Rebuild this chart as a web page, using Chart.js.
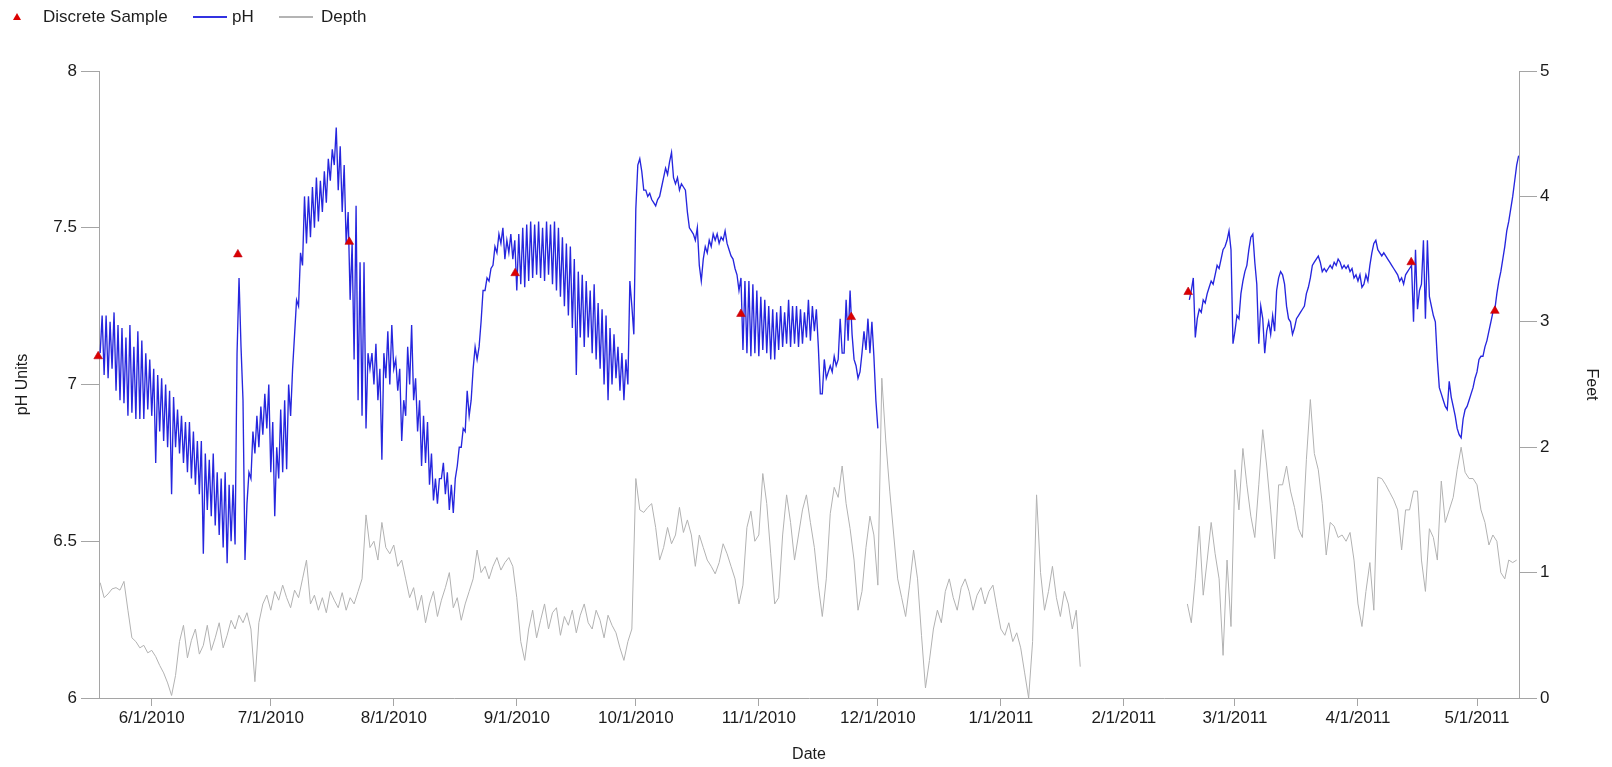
<!DOCTYPE html>
<html>
<head>
<meta charset="utf-8">
<title>pH and Depth</title>
<script src="https://cdn.jsdelivr.net/npm/chart.js@4.4.1/dist/chart.umd.min.js"></script>
<style>
  html, body { margin: 0; padding: 0; background: #fff; }
  #wrap { position: relative; width: 1612px; height: 767px; }
  #legend { position: absolute; left: 0; top: 0; width: 400px; height: 34px;
            font: 17px "Liberation Sans", Arial, sans-serif; color: #1e1e1e; }
  #legend .lbl { position: absolute; top: 7px; line-height: 20px; white-space: nowrap; }
  #legend .ln { position: absolute; top: 16px; width: 34px; height: 1.5px; }
  #legend .tri { position: absolute; left: 13px; top: 13px; width: 0; height: 0;
                 border-left: 4px solid transparent; border-right: 4px solid transparent;
                 border-bottom: 7px solid rgb(220,0,0); }
</style>
</head>
<body>
<div id="wrap">
  <canvas id="chart" width="1612" height="767"></canvas>
  <div id="legend">
    <span class="tri"></span>
    <span class="lbl" style="left:43px">Discrete Sample</span>
    <span class="ln" style="left:193px;background:rgb(50,50,225)"></span>
    <span class="lbl" style="left:232px">pH</span>
    <span class="ln" style="left:279px;background:rgb(180,180,180)"></span>
    <span class="lbl" style="left:321px">Depth</span>
  </div>
</div>
<script>
// ---- Continuous pH record, one reading every 12 hours ----
const phEarlyStart = '2010-05-19T00:00:00Z';
const phEarly = [
  7.10,7.22, 7.03,7.22, 7.02,7.20, 7.05,7.23, 6.98,7.19,
  6.95,7.18, 6.94,7.15, 6.90,7.19, 6.91,7.12, 6.89,7.17,
  6.89,7.14, 6.89,7.10, 6.92,7.08, 6.90,7.05, 6.75,7.03,
  6.85,7.02, 6.82,7.00, 6.80,6.98, 6.65,6.96, 6.80,6.92,
  6.78,6.90, 6.75,6.88, 6.72,6.88, 6.70,6.85, 6.68,6.82,
  6.65,6.82, 6.46,6.78, 6.60,6.76, 6.58,6.78, 6.55,6.72,
  6.52,6.70, 6.48,6.72, 6.43,6.68, 6.50,6.68, 6.49,7.10,
  7.34,7.12, 6.95,6.44, 6.62,6.72, 6.70,6.85, 6.78,6.90,
  6.80,6.93, 6.84,6.97, 6.86,7.00, 6.72,6.88, 6.58,6.80,
  6.70,6.92, 6.72,6.95, 6.73,7.00, 6.90,7.05, 7.16,7.27,
  7.25,7.42, 7.38,7.60, 7.45,7.60, 7.47,7.63, 7.50,7.66,
  7.52,7.65, 7.55,7.68, 7.58,7.72, 7.65,7.75, 7.70,7.82,
  7.62,7.76, 7.55,7.70, 7.45,7.55, 7.27,7.45, 7.08,7.57,
  6.95,7.39, 6.90,7.39, 6.86,7.10, 7.05,7.10, 7.00,7.13,
  6.95,7.05, 6.76,7.10, 7.02,7.17, 7.00,7.19, 7.05,7.08,
  6.98,7.05, 6.82,6.95, 6.90,7.12, 7.00,7.19, 6.95,7.02,
  6.85,6.95, 6.74,6.90, 6.75,6.88, 6.68,6.78, 6.63,6.70,
  6.62,6.70, 6.70,6.75, 6.65,6.72, 6.60,6.68, 6.59,6.70,
  6.74,6.80, 6.80,6.86, 6.85,6.98, 6.90,6.95, 7.05,7.12,
  7.08,7.12, 7.20,7.30, 7.30,7.34, 7.33,7.37, 7.38,7.44,
  7.42,7.48, 7.45,7.50, 7.40,7.46, 7.42,7.48, 7.40,7.46,
  7.30,7.48, 7.32,7.50, 7.31,7.51, 7.33,7.52, 7.34,7.51,
  7.35,7.52, 7.34,7.50, 7.33,7.52, 7.35,7.51, 7.32,7.52,
  7.30,7.50, 7.28,7.47, 7.25,7.45, 7.22,7.44, 7.18,7.40,
  7.03,7.36, 7.15,7.35, 7.12,7.33, 7.15,7.30, 7.10,7.32,
  7.08,7.26, 7.05,7.24, 7.00,7.22, 6.95,7.18, 7.00,7.16,
  7.02,7.12, 6.98,7.10, 6.95,7.08, 7.00,7.33, 7.25,7.16,
  7.56,7.70, 7.72,7.68, 7.62,7.62, 7.60,7.61, 7.59,7.58,
  7.57,7.59, 7.60,7.63, 7.66,7.69, 7.67,7.71, 7.74,7.66,
  7.64,7.66, 7.62,7.64, 7.63,7.62, 7.55,7.50, 7.49,7.48,
  7.46,7.50, 7.38,7.33, 7.40,7.44, 7.42,7.46, 7.44,7.48,
  7.46,7.48, 7.45,7.47, 7.46,7.49, 7.45,7.43, 7.41,7.40,
  7.37,7.35, 7.30,7.34, 7.11,7.33, 7.10,7.33, 7.09,7.32,
  7.10,7.30, 7.09,7.28, 7.11,7.27, 7.10,7.25, 7.08,7.24,
  7.08,7.23, 7.11,7.25, 7.12,7.23, 7.13,7.27, 7.12,7.25,
  7.13,7.25, 7.12,7.24, 7.13,7.23, 7.15,7.27, 7.14,7.25,
  7.17,7.24, 7.12,6.97, 6.97,7.08, 7.02,7.04, 7.06,7.04,
  7.09,7.06, 7.08,7.21, 7.10,7.10, 7.27,7.14, 7.30,7.16,
  7.08,7.06, 7.02,7.04, 7.10,7.17, 7.11,7.21, 7.10,7.20,
  7.09,6.95, 6.86
];

const phLateStart = '2011-02-17T12:00:00Z';
const phLate = [
  7.27, 7.30,7.34, 7.15,7.21, 7.24,7.23, 7.27,7.26, 7.29,7.31,
  7.33,7.32, 7.35,7.38, 7.37,7.40, 7.43,7.44, 7.46,7.49,
  7.43,7.13, 7.17,7.22, 7.21,7.29, 7.33,7.36, 7.38,7.43,
  7.47,7.48, 7.39,7.32, 7.13,7.25, 7.21,7.10, 7.17,7.20,
  7.16,7.22, 7.17,7.30, 7.34,7.36, 7.35,7.32, 7.25,7.21,
  7.20,7.16, 7.18,7.21, 7.22,7.23, 7.24,7.25, 7.29,7.31,
  7.34,7.38, 7.39,7.40, 7.41,7.39, 7.36,7.37, 7.36,7.37,
  7.38,7.37, 7.39,7.38, 7.40,7.39, 7.37,7.38, 7.37,7.38,
  7.36,7.37, 7.34,7.35, 7.33,7.35, 7.31,7.32, 7.35,7.33,
  7.38,7.42, 7.45,7.46, 7.43,7.42, 7.41,7.42, 7.41,7.40,
  7.39,7.38, 7.37,7.36, 7.35,7.33, 7.34,7.32, 7.35,7.36,
  7.37,7.38, 7.20,7.43, 7.24,7.30, 7.32,7.46, 7.21,7.46,
  7.28,7.25, 7.22,7.20, 7.08,6.99, 6.97,6.95, 6.93,6.92,
  7.01,6.96, 6.93,6.90, 6.86,6.84, 6.83,6.89, 6.92,6.93,
  6.95,6.97, 6.99,7.02, 7.04,7.08, 7.09,7.09, 7.12,7.14,
  7.17,7.20, 7.23,7.24, 7.29,7.33, 7.36,7.40, 7.44,7.49,
  7.52,7.56, 7.60,7.65, 7.70,7.73
];

// ---- Water depth (feet), one reading per day ----
const depthEarlyStart = '2010-05-19T00:00:00Z';
const depthEarly = [
  0.92,0.80,0.83,0.87,0.88,0.86,0.93,0.70,0.48,0.45,0.40,0.42,0.36,
  0.38,0.33,0.26,0.20,0.12,0.02,0.18,0.45,0.58,0.32,0.46,0.55,0.35,
  0.42,0.58,0.38,0.48,0.60,0.40,0.50,0.62,0.55,0.66,0.60,0.68,0.55,
  0.13,0.60,0.75,0.82,0.70,0.85,0.78,0.90,0.80,0.72,0.86,0.80,0.95,
  1.10,0.75,0.82,0.70,0.80,0.68,0.85,0.78,0.72,0.84,0.70,0.80,0.75,
  0.85,0.95,1.46,1.20,1.25,1.10,1.40,1.20,1.15,1.22,1.05,1.10,0.95,
  0.80,0.88,0.70,0.82,0.60,0.75,0.85,0.65,0.78,0.88,1.00,0.72,0.80,
  0.62,0.75,0.85,0.95,1.18,1.00,1.05,0.95,1.05,1.12,1.02,1.08,1.12,
  1.05,0.80,0.45,0.30,0.55,0.70,0.48,0.62,0.75,0.55,0.68,0.72,0.50,
  0.65,0.58,0.70,0.52,0.66,0.75,0.60,0.55,0.70,0.62,0.48,0.66,0.58,
  0.52,0.40,0.30,0.45,0.55,
  1.75,1.50,1.48,1.52,1.55,1.36,1.10,1.20,1.36,1.23,1.30,1.52,1.32,
  1.42,1.30,1.05,1.30,1.20,1.10,1.05,0.99,1.08,1.23,1.15,1.05,0.95,
  0.75,0.90,1.36,1.49,1.25,1.30,1.79,1.55,1.15,0.75,0.80,1.30,1.62,
  1.40,1.10,1.30,1.50,1.62,1.40,1.20,0.90,0.65,0.95,1.47,1.68,1.60,
  1.85,1.55,1.35,1.10,0.70,0.85,1.20,1.45,1.30,0.90,2.55,2.05,1.65,
  1.30,0.95,0.80,0.65,0.90,1.18,0.95,0.50,0.08,0.30,0.55,0.70,0.60,
  0.85,0.95,0.80,0.70,0.88,0.95,0.85,0.70,0.82,0.88,0.75,0.85,0.90,
  0.72,0.55,0.50,0.60,0.45,0.52,0.40,0.20,0.00,0.45,1.62,1.00,0.70,
  0.85,1.05,0.80,0.65,0.85,0.75,0.55,0.70,0.25
];

const depthLateStart = '2011-02-17T00:00:00Z';
const depthLate = [
  0.75,0.60,0.95,1.37,0.82,1.10,1.40,1.15,0.95,0.34,1.10,0.57,1.82,
  1.50,1.99,1.70,1.45,1.28,1.70,2.14,1.85,1.50,1.11,1.70,1.70,1.85,
  1.65,1.52,1.35,1.28,1.90,2.38,1.95,1.82,1.55,1.14,1.40,1.37,1.28,
  1.30,1.25,1.32,1.10,0.75,0.57,0.85,1.08,0.70,1.76,1.75,1.70,1.64,
  1.58,1.50,1.18,1.50,1.50,1.65,1.65,1.10,0.85,1.35,1.28,1.10,1.73,
  1.40,1.50,1.60,1.82,2.00,1.80,1.75,1.75,1.70,1.50,1.40,1.22,1.30,
  1.25,1.00,0.95,1.10,1.08,1.10
];

// ---- Discrete grab samples ----
const sampleDates = [
  '2010-05-18T12:00:00Z', '2010-06-22T17:00:00Z', '2010-07-20T19:00:00Z',
  '2010-08-31T14:00:00Z', '2010-10-27T12:00:00Z', '2010-11-24T07:00:00Z',
  '2011-02-17T05:00:00Z', '2011-04-14T10:00:00Z', '2011-05-05T12:00:00Z'
];
const sampleValues = [7.09, 7.415, 7.455, 7.355, 7.225, 7.215, 7.295, 7.39, 7.235];

// ---- Axis ticks ----
const dateTickLabels = ['6/1/2010', '7/1/2010', '8/1/2010', '9/1/2010', '10/1/2010', '11/1/2010',
                        '12/1/2010', '1/1/2011', '2/1/2011', '3/1/2011', '4/1/2011', '5/1/2011'];
const phTicks = [6, 6.5, 7, 7.5, 8];
const feetTicks = [0, 1, 2, 3, 4, 5];
const dateMin = '2010-05-18T17:00:00Z';
const dateMax = '2011-05-11T14:00:00Z';

// ---- helpers ----
const HOUR = 3600 * 1000;
function mdyToTime(label) {
  const [m, d, y] = label.split('/').map(Number);
  return Date.UTC(y, m - 1, d);
}
function series(start, stepHours, values) {
  const t0 = Date.parse(start);
  return values.map((v, i) => ({ x: t0 + i * stepHours * HOUR, y: v }));
}
function joinWithGap(a, b) {
  // a null point between the two runs leaves the missing period blank
  return a.concat([{ x: (a[a.length - 1].x + b[0].x) / 2, y: null }], b);
}

const phPoints = joinWithGap(series(phEarlyStart, 12, phEarly), series(phLateStart, 12, phLate));
const depthPoints = joinWithGap(series(depthEarlyStart, 24, depthEarly), series(depthLateStart, 24, depthLate));
const samplePoints = sampleDates.map((d, i) => ({ x: Date.parse(d), y: sampleValues[i] }));
const dateTicks = dateTickLabels.map(mdyToTime);

const FONT = '"Liberation Sans", Arial, sans-serif';
const AXIS_GREY = 'rgb(165,165,165)';
const TEXT = '#1c1c1c';

new Chart(document.getElementById('chart'), {
  type: 'line',
  data: {
    datasets: [
      {
        label: 'Discrete Sample', type: 'scatter', data: samplePoints, yAxisID: 'y', order: 0,
        pointStyle: 'triangle', pointRadius: 5, pointHoverRadius: 5,
        backgroundColor: 'rgb(220,0,0)', borderColor: 'rgb(190,0,20)', borderWidth: 0.6,
        clip: false
      },
      {
        label: 'pH', data: phPoints, yAxisID: 'y', order: 1,
        borderColor: 'rgb(38,38,222)', borderWidth: 1.35, pointRadius: 0,
        tension: 0, spanGaps: false
      },
      {
        label: 'Depth', data: depthPoints, yAxisID: 'y2', order: 2,
        borderColor: 'rgb(178,178,178)', borderWidth: 1, pointRadius: 0,
        tension: 0, spanGaps: false
      }
    ]
  },
  options: {
    responsive: false,
    animation: false,
    devicePixelRatio: 1,
    parsing: false,
    layout: { padding: { top: 71, left: 0, right: 0, bottom: 0 } },
    plugins: { legend: { display: false }, tooltip: { enabled: false } },
    scales: {
      x: {
        type: 'linear',
        min: Date.parse(dateMin),
        max: Date.parse(dateMax),
        afterBuildTicks: (s) => { s.ticks = dateTicks.map(v => ({ value: v })); },
        afterFit: (s) => { s.height = 69; },
        ticks: {
          autoSkip: false, maxRotation: 0, minRotation: 0, padding: 2,
          color: TEXT, font: { family: FONT, size: 17 },
          callback: (v, i) => dateTickLabels[i]
        },
        grid: { drawOnChartArea: false, drawTicks: true, tickLength: 8, color: AXIS_GREY },
        border: { display: true, color: AXIS_GREY, width: 1 },
        title: { display: true, text: 'Date', color: TEXT, font: { family: FONT, size: 16 },
                 padding: { top: 0, bottom: 3 } }
      },
      y: {
        position: 'left', min: 6, max: 8,
        afterBuildTicks: (s) => { s.ticks = phTicks.map(v => ({ value: v })); },
        afterFit: (s) => { s.width = 99; },
        ticks: { padding: 4, color: TEXT, font: { family: FONT, size: 17 }, callback: (v) => String(v) },
        grid: { drawOnChartArea: false, drawTicks: true, tickLength: 18, color: AXIS_GREY },
        border: { display: true, color: AXIS_GREY, width: 1 },
        title: { display: true, text: 'pH Units', color: TEXT, font: { family: FONT, size: 16 },
                 padding: { top: 13, bottom: 0 } }
      },
      y2: {
        position: 'right', min: 0, max: 5,
        afterBuildTicks: (s) => { s.ticks = feetTicks.map(v => ({ value: v })); },
        afterFit: (s) => { s.width = 93; },
        ticks: { padding: 3, color: TEXT, font: { family: FONT, size: 17 }, callback: (v) => String(v) },
        grid: { drawOnChartArea: false, drawTicks: true, tickLength: 18, color: AXIS_GREY },
        border: { display: true, color: AXIS_GREY, width: 1 },
        title: { display: true, text: 'Feet', color: TEXT, font: { family: FONT, size: 16 },
                 padding: { top: 11, bottom: 0 } }
      }
    }
  }
});
</script>
</body>
</html>
